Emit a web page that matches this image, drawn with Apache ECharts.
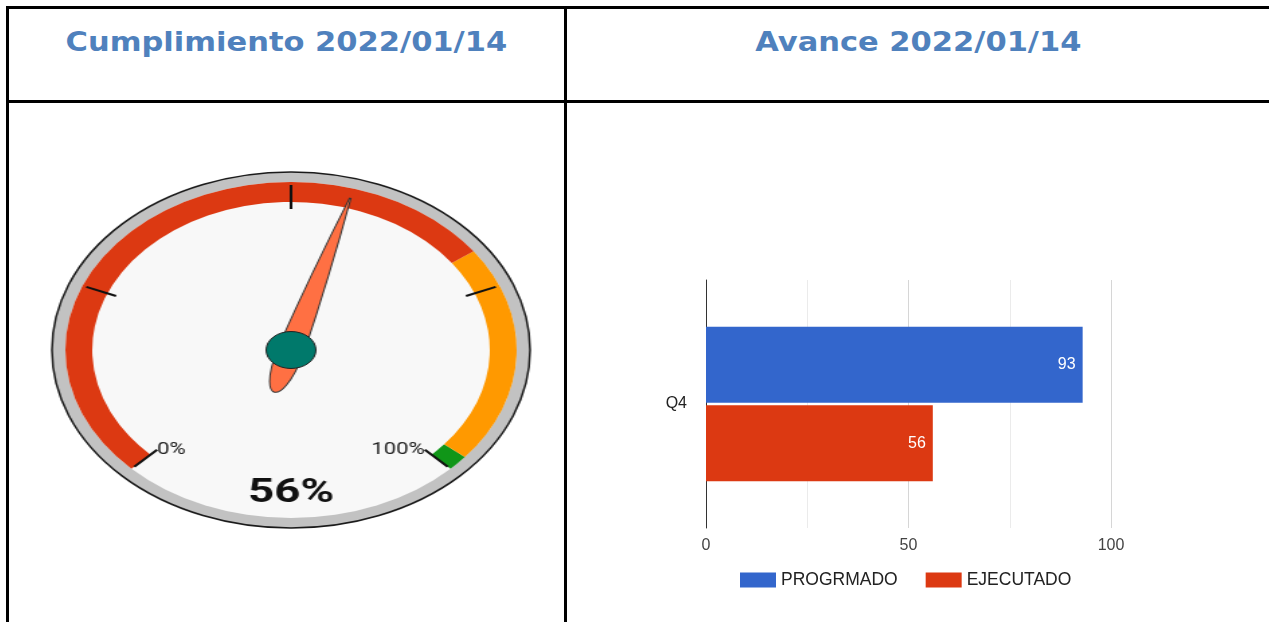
<!DOCTYPE html>
<html>
<head>
<meta charset="utf-8">
<script src="https://cdn.jsdelivr.net/npm/echarts@6/dist/echarts.min.js"></script>
<style>
  html, body { margin: 0; padding: 0; background: #fff; overflow: hidden; width: 1269px; height: 622px; }
  .line { position: absolute; background: #000; }
  .head { position: absolute; top: 26px; text-align: center; color: #4f81bd; font-family: "DejaVu Sans", Verdana, sans-serif; font-weight: bold; font-size: 27px; white-space: nowrap; }
  .head span { display: inline-block; transform: scaleX(1.13); }
  #gauge { position: absolute; left: 91px; top: 150px; width: 400px; height: 400px; transform: scaleX(1.343); transform-origin: 50% 50%; }
  #bars { position: absolute; left: 567px; top: 103px; width: 702px; height: 519px; }
</style>
</head>
<body>
  <div class="line" style="left:6px;top:6px;width:1280px;height:3px"></div>
  <div class="line" style="left:6px;top:100px;width:1280px;height:3px"></div>
  <div class="line" style="left:6px;top:6px;width:3px;height:630px"></div>
  <div class="line" style="left:564px;top:6px;width:3px;height:630px"></div>
  <div class="head" style="left:9px;width:555px"><span>Cumplimiento 2022/01/14</span></div>
  <div class="head" style="left:567px;width:703px"><span>Avance 2022/01/14</span></div>
  <div id="gauge"></div>
  <div id="bars"></div>

<script>
// gauge
let cumplimiento = 56;
let gaugeLabels = ["0%", "100%"];
let gaugeBands = [[0.7, "#dc3912"], [0.98, "#ff9900"], [1, "#109618"]];

// bars
let categories = ["Q4"];
let seriesNames = ["PROGRMADO", "EJECUTADO"];
let programado = [93];
let ejecutado = [56];

let gaugeChart = echarts.init(document.getElementById("gauge"));
gaugeChart.setOption({
  animation: false,
  series: [
    {
      // gray rim with black outline
      type: "pie",
      silent: true,
      z: 0,
      radius: [0, 178],
      label: { show: false },
      labelLine: { show: false },
      itemStyle: { color: "#c2c2c2", borderColor: "#1a1a1a", borderWidth: 1.5 },
      data: [{ value: 1 }],
    },
    {
      // face
      type: "pie",
      silent: true,
      z: 1,
      radius: [0, 168],
      label: { show: false },
      labelLine: { show: false },
      itemStyle: { color: "#f8f8f8" },
      data: [{ value: 1 }],
    },
    {
      type: "gauge",
      z: 5,
      radius: 168,
      startAngle: 225,
      endAngle: -45,
      min: 0,
      max: 100,
      splitNumber: 4,
      axisLine: {
        lineStyle: { width: 20, color: gaugeBands },
      },
      splitLine: {
        distance: -17,
        length: 24,
        lineStyle: { color: "#111", width: 2 },
      },
      axisTick: { show: false },
      axisLabel: {
        distance: 20,
        color: "#222",
        fontSize: 16.5,
        fontFamily: "Roboto",
        formatter: (v) => {
          if (v === 0) return gaugeLabels[0];
          if (v === 100) return gaugeLabels[1];
          return "";
        },
      },
      pointer: {
        icon: "path://M9.5,0 L10.5,0 Q17,80 20,158 C20,192 14,202 10,202 C6,202 0,192 0,158 Q3,80 9.5,0 Z",
        length: 202,
        width: 20,
        offsetCenter: [0, 44],
        itemStyle: { color: "#ff7043", borderColor: "#333", borderWidth: 1 },
      },
      anchor: {
        show: true,
        showAbove: true,
        size: 37,
        itemStyle: { color: "#00796b", borderColor: "#222", borderWidth: 1 },
      },
      title: { show: false },
      detail: {
        offsetCenter: [0, 143],
        fontSize: 34,
        fontWeight: "bold",
        fontFamily: "Roboto",
        color: "#111",
        formatter: "{value}%",
      },
      data: [{ value: cumplimiento }],
    },
  ],
});

let barChart = echarts.init(document.getElementById("bars"));
barChart.setOption({
  animation: false,
  textStyle: { fontFamily: "Liberation Sans, Arial, sans-serif" },
  color: ["#3366cc", "#dc3912"],
  legend: {
    left: 168,
    top: 463,
    itemWidth: 36,
    itemHeight: 15,
    itemGap: 28,
    icon: "rect",
    textStyle: { fontSize: 17.5, color: "#222" },
    data: seriesNames,
  },
  grid: { left: 139, top: 177, width: 405, height: 248 },
  xAxis: {
    type: "value",
    min: 0,
    max: 100,
    interval: 50,
    axisLine: { show: false },
    axisTick: { show: false },
    axisLabel: { color: "#444", fontSize: 16, margin: 10 },
    splitLine: { lineStyle: { color: "#d6d6d6" } },
    minorTick: { show: false, splitNumber: 2 },
    minorSplitLine: { show: true, lineStyle: { color: "#ebebeb" } },
  },
  yAxis: {
    type: "category",
    inverse: true,
    data: categories,
    axisLine: { show: true, lineStyle: { color: "#333", width: 1 } },
    axisTick: { show: false },
    axisLabel: { color: "#222", fontSize: 16, margin: 19 },
  },
  series: [
    {
      name: seriesNames[0],
      type: "bar",
      data: programado,
      barWidth: 76,
      barGap: "3%",
      label: { show: true, position: "insideRight", distance: 7, color: "#fff", fontSize: 16 },
    },
    {
      name: seriesNames[1],
      type: "bar",
      data: ejecutado,
      barWidth: 76,
      barGap: "3%",
      label: { show: true, position: "insideRight", distance: 7, color: "#fff", fontSize: 16 },
    },
  ],
});
</script>
</body>
</html>
